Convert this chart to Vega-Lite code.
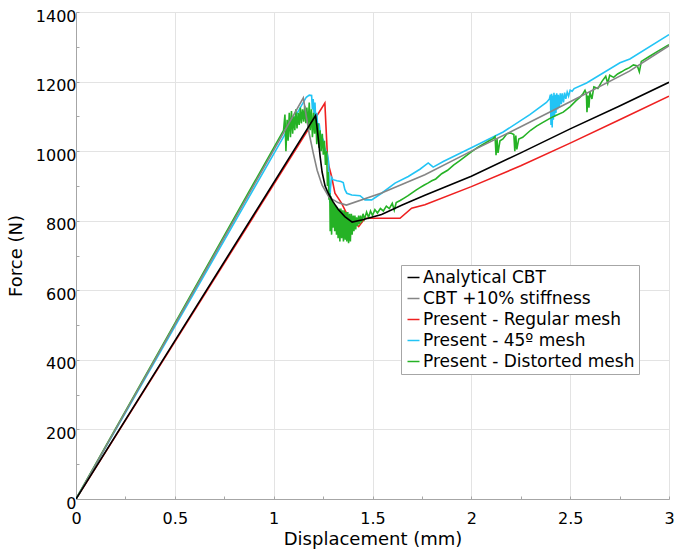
{
  "$schema": "https://vega.github.io/schema/vega-lite/v6.json",
  "width": 593,
  "height": 487,
  "autosize": {"type": "none"},
  "padding": {"left": 76, "top": 12, "right": 7, "bottom": 56},
  "background": "white",
  "config": {
    "font": "DejaVu Sans",
    "view": {"stroke": null},
    "axis": {
      "labelFont": "DejaVu Sans",
      "titleFont": "DejaVu Sans",
      "labelFontSize": 16,
      "titleFontSize": 18,
      "titleFontWeight": "normal",
      "labelColor": "#000000",
      "titleColor": "#000000",
      "gridColor": "#e3e3e3",
      "gridWidth": 1,
      "domainColor": "#a6a6a6",
      "domainWidth": 1,
      "tickColor": "#a6a6a6",
      "tickSize": -3
    }
  },
  "data": {
    "values": [
      {"s": "Analytical CBT", "x": 0, "y": 0},
      {"s": "Analytical CBT", "x": 1.212, "y": 1102},
      {"s": "Analytical CBT", "x": 1.218, "y": 1075},
      {"s": "Analytical CBT", "x": 1.226, "y": 1035},
      {"s": "Analytical CBT", "x": 1.235, "y": 985},
      {"s": "Analytical CBT", "x": 1.245, "y": 940},
      {"s": "Analytical CBT", "x": 1.26, "y": 900},
      {"s": "Analytical CBT", "x": 1.276, "y": 879},
      {"s": "Analytical CBT", "x": 1.3, "y": 855},
      {"s": "Analytical CBT", "x": 1.327, "y": 832},
      {"s": "Analytical CBT", "x": 1.36, "y": 812},
      {"s": "Analytical CBT", "x": 1.397, "y": 796},
      {"s": "Analytical CBT", "x": 1.45, "y": 803},
      {"s": "Analytical CBT", "x": 1.546, "y": 818},
      {"s": "Analytical CBT", "x": 1.65, "y": 845},
      {"s": "Analytical CBT", "x": 1.765, "y": 873},
      {"s": "Analytical CBT", "x": 2.0, "y": 928},
      {"s": "Analytical CBT", "x": 2.25, "y": 995},
      {"s": "Analytical CBT", "x": 2.5, "y": 1064},
      {"s": "Analytical CBT", "x": 2.75, "y": 1130},
      {"s": "Analytical CBT", "x": 3.0, "y": 1198},

      {"s": "CBT +10% stiffness", "x": 0, "y": 0},
      {"s": "CBT +10% stiffness", "x": 1.15, "y": 1153},
      {"s": "CBT +10% stiffness", "x": 1.165, "y": 1100},
      {"s": "CBT +10% stiffness", "x": 1.18, "y": 1050},
      {"s": "CBT +10% stiffness", "x": 1.2, "y": 995},
      {"s": "CBT +10% stiffness", "x": 1.22, "y": 945},
      {"s": "CBT +10% stiffness", "x": 1.245, "y": 902},
      {"s": "CBT +10% stiffness", "x": 1.28, "y": 868},
      {"s": "CBT +10% stiffness", "x": 1.325, "y": 852},
      {"s": "CBT +10% stiffness", "x": 1.368, "y": 845},
      {"s": "CBT +10% stiffness", "x": 1.546, "y": 880},
      {"s": "CBT +10% stiffness", "x": 1.765, "y": 932},
      {"s": "CBT +10% stiffness", "x": 2.0, "y": 1000},
      {"s": "CBT +10% stiffness", "x": 2.25, "y": 1070},
      {"s": "CBT +10% stiffness", "x": 2.5, "y": 1142},
      {"s": "CBT +10% stiffness", "x": 2.8, "y": 1230},
      {"s": "CBT +10% stiffness", "x": 3.0, "y": 1303},

      {"s": "Present - Regular mesh", "x": 0, "y": 0},
      {"s": "Present - Regular mesh", "x": 1.259, "y": 1138},
      {"s": "Present - Regular mesh", "x": 1.272, "y": 985},
      {"s": "Present - Regular mesh", "x": 1.278, "y": 960},
      {"s": "Present - Regular mesh", "x": 1.293, "y": 927},
      {"s": "Present - Regular mesh", "x": 1.31, "y": 879},
      {"s": "Present - Regular mesh", "x": 1.344, "y": 850},
      {"s": "Present - Regular mesh", "x": 1.377, "y": 812},
      {"s": "Present - Regular mesh", "x": 1.403, "y": 797},
      {"s": "Present - Regular mesh", "x": 1.43, "y": 783},
      {"s": "Present - Regular mesh", "x": 1.462, "y": 807},
      {"s": "Present - Regular mesh", "x": 1.639, "y": 807},
      {"s": "Present - Regular mesh", "x": 1.698, "y": 836},
      {"s": "Present - Regular mesh", "x": 1.765, "y": 846},
      {"s": "Present - Regular mesh", "x": 2.0, "y": 898},
      {"s": "Present - Regular mesh", "x": 2.25, "y": 958},
      {"s": "Present - Regular mesh", "x": 2.5, "y": 1023},
      {"s": "Present - Regular mesh", "x": 2.75, "y": 1090},
      {"s": "Present - Regular mesh", "x": 3.0, "y": 1158},

      {"s": "Present - 45º mesh", "x": 0, "y": 0},
      {"s": "Present - 45º mesh", "x": 1.165, "y": 1155},
      {"s": "Present - 45º mesh", "x": 1.18, "y": 1161},
      {"s": "Present - 45º mesh", "x": 1.192, "y": 1160},
      {"s": "Present - 45º mesh", "x": 1.196, "y": 1120},
      {"s": "Present - 45º mesh", "x": 1.2, "y": 1150},
      {"s": "Present - 45º mesh", "x": 1.205, "y": 1100},
      {"s": "Present - 45º mesh", "x": 1.209, "y": 1140},
      {"s": "Present - 45º mesh", "x": 1.214, "y": 1075},
      {"s": "Present - 45º mesh", "x": 1.218, "y": 1110},
      {"s": "Present - 45º mesh", "x": 1.224, "y": 1060},
      {"s": "Present - 45º mesh", "x": 1.23, "y": 1080},
      {"s": "Present - 45º mesh", "x": 1.236, "y": 1050},
      {"s": "Present - 45º mesh", "x": 1.245, "y": 1040},
      {"s": "Present - 45º mesh", "x": 1.252, "y": 1030},
      {"s": "Present - 45º mesh", "x": 1.258, "y": 1010},
      {"s": "Present - 45º mesh", "x": 1.265, "y": 1000},
      {"s": "Present - 45º mesh", "x": 1.272, "y": 990},
      {"s": "Present - 45º mesh", "x": 1.278, "y": 970},
      {"s": "Present - 45º mesh", "x": 1.281, "y": 900},
      {"s": "Present - 45º mesh", "x": 1.284, "y": 852},
      {"s": "Present - 45º mesh", "x": 1.287, "y": 890},
      {"s": "Present - 45º mesh", "x": 1.292, "y": 925},
      {"s": "Present - 45º mesh", "x": 1.3, "y": 918},
      {"s": "Present - 45º mesh", "x": 1.32, "y": 915},
      {"s": "Present - 45º mesh", "x": 1.34, "y": 913},
      {"s": "Present - 45º mesh", "x": 1.352, "y": 910},
      {"s": "Present - 45º mesh", "x": 1.36, "y": 890},
      {"s": "Present - 45º mesh", "x": 1.37, "y": 879},
      {"s": "Present - 45º mesh", "x": 1.395, "y": 874},
      {"s": "Present - 45º mesh", "x": 1.437, "y": 872},
      {"s": "Present - 45º mesh", "x": 1.462, "y": 860},
      {"s": "Present - 45º mesh", "x": 1.496, "y": 860},
      {"s": "Present - 45º mesh", "x": 1.546, "y": 879},
      {"s": "Present - 45º mesh", "x": 1.614, "y": 908},
      {"s": "Present - 45º mesh", "x": 1.681, "y": 927},
      {"s": "Present - 45º mesh", "x": 1.74, "y": 948},
      {"s": "Present - 45º mesh", "x": 1.782, "y": 966},
      {"s": "Present - 45º mesh", "x": 1.795, "y": 960},
      {"s": "Present - 45º mesh", "x": 1.807, "y": 954},
      {"s": "Present - 45º mesh", "x": 1.858, "y": 970},
      {"s": "Present - 45º mesh", "x": 2.0, "y": 1010},
      {"s": "Present - 45º mesh", "x": 2.161, "y": 1055},
      {"s": "Present - 45º mesh", "x": 2.296, "y": 1105},
      {"s": "Present - 45º mesh", "x": 2.38, "y": 1140},
      {"s": "Present - 45º mesh", "x": 2.395, "y": 1150},
      {"s": "Present - 45º mesh", "x": 2.4, "y": 1162},
      {"s": "Present - 45º mesh", "x": 2.403, "y": 1075},
      {"s": "Present - 45º mesh", "x": 2.406, "y": 1165},
      {"s": "Present - 45º mesh", "x": 2.409, "y": 1068},
      {"s": "Present - 45º mesh", "x": 2.412, "y": 1160},
      {"s": "Present - 45º mesh", "x": 2.415, "y": 1090},
      {"s": "Present - 45º mesh", "x": 2.418, "y": 1168},
      {"s": "Present - 45º mesh", "x": 2.421, "y": 1100},
      {"s": "Present - 45º mesh", "x": 2.424, "y": 1162},
      {"s": "Present - 45º mesh", "x": 2.428, "y": 1110},
      {"s": "Present - 45º mesh", "x": 2.432, "y": 1166},
      {"s": "Present - 45º mesh", "x": 2.436, "y": 1120},
      {"s": "Present - 45º mesh", "x": 2.44, "y": 1162},
      {"s": "Present - 45º mesh", "x": 2.445, "y": 1125},
      {"s": "Present - 45º mesh", "x": 2.45, "y": 1166},
      {"s": "Present - 45º mesh", "x": 2.455, "y": 1135},
      {"s": "Present - 45º mesh", "x": 2.46, "y": 1166},
      {"s": "Present - 45º mesh", "x": 2.466, "y": 1140},
      {"s": "Present - 45º mesh", "x": 2.472, "y": 1168},
      {"s": "Present - 45º mesh", "x": 2.478, "y": 1150},
      {"s": "Present - 45º mesh", "x": 2.485, "y": 1170},
      {"s": "Present - 45º mesh", "x": 2.492, "y": 1158},
      {"s": "Present - 45º mesh", "x": 2.5, "y": 1175},
      {"s": "Present - 45º mesh", "x": 2.51, "y": 1172},
      {"s": "Present - 45º mesh", "x": 2.52, "y": 1180},
      {"s": "Present - 45º mesh", "x": 2.583, "y": 1196},
      {"s": "Present - 45º mesh", "x": 2.752, "y": 1254},
      {"s": "Present - 45º mesh", "x": 2.802, "y": 1265},
      {"s": "Present - 45º mesh", "x": 3.0, "y": 1335},

      {"s": "Present - Distorted mesh", "x": 0, "y": 0},
      {"s": "Present - Distorted mesh", "x": 1.05, "y": 1060},
      {"s": "Present - Distorted mesh", "x": 1.057, "y": 1105},
      {"s": "Present - Distorted mesh", "x": 1.062, "y": 1000},
      {"s": "Present - Distorted mesh", "x": 1.068, "y": 1090},
      {"s": "Present - Distorted mesh", "x": 1.073, "y": 1030},
      {"s": "Present - Distorted mesh", "x": 1.079, "y": 1110},
      {"s": "Present - Distorted mesh", "x": 1.085, "y": 1040},
      {"s": "Present - Distorted mesh", "x": 1.09, "y": 1115},
      {"s": "Present - Distorted mesh", "x": 1.096, "y": 1050},
      {"s": "Present - Distorted mesh", "x": 1.101, "y": 1100},
      {"s": "Present - Distorted mesh", "x": 1.107, "y": 1060},
      {"s": "Present - Distorted mesh", "x": 1.112, "y": 1120},
      {"s": "Present - Distorted mesh", "x": 1.118, "y": 1065},
      {"s": "Present - Distorted mesh", "x": 1.124, "y": 1110},
      {"s": "Present - Distorted mesh", "x": 1.129, "y": 1075},
      {"s": "Present - Distorted mesh", "x": 1.135, "y": 1125},
      {"s": "Present - Distorted mesh", "x": 1.14, "y": 1080},
      {"s": "Present - Distorted mesh", "x": 1.146, "y": 1120},
      {"s": "Present - Distorted mesh", "x": 1.152, "y": 1085},
      {"s": "Present - Distorted mesh", "x": 1.157, "y": 1130},
      {"s": "Present - Distorted mesh", "x": 1.163, "y": 1080},
      {"s": "Present - Distorted mesh", "x": 1.168, "y": 1125},
      {"s": "Present - Distorted mesh", "x": 1.174, "y": 1070},
      {"s": "Present - Distorted mesh", "x": 1.18, "y": 1140},
      {"s": "Present - Distorted mesh", "x": 1.185, "y": 1060},
      {"s": "Present - Distorted mesh", "x": 1.191, "y": 1120},
      {"s": "Present - Distorted mesh", "x": 1.196, "y": 1040},
      {"s": "Present - Distorted mesh", "x": 1.202, "y": 1110},
      {"s": "Present - Distorted mesh", "x": 1.207, "y": 1050},
      {"s": "Present - Distorted mesh", "x": 1.213, "y": 1100},
      {"s": "Present - Distorted mesh", "x": 1.218, "y": 1020},
      {"s": "Present - Distorted mesh", "x": 1.224, "y": 1080},
      {"s": "Present - Distorted mesh", "x": 1.229, "y": 1010},
      {"s": "Present - Distorted mesh", "x": 1.235, "y": 1060},
      {"s": "Present - Distorted mesh", "x": 1.24, "y": 1000},
      {"s": "Present - Distorted mesh", "x": 1.246, "y": 1050},
      {"s": "Present - Distorted mesh", "x": 1.251, "y": 990},
      {"s": "Present - Distorted mesh", "x": 1.257, "y": 1030},
      {"s": "Present - Distorted mesh", "x": 1.262, "y": 960},
      {"s": "Present - Distorted mesh", "x": 1.268, "y": 1000},
      {"s": "Present - Distorted mesh", "x": 1.272, "y": 900},
      {"s": "Present - Distorted mesh", "x": 1.276, "y": 940},
      {"s": "Present - Distorted mesh", "x": 1.28, "y": 860},
      {"s": "Present - Distorted mesh", "x": 1.284, "y": 880},
      {"s": "Present - Distorted mesh", "x": 1.286, "y": 770},
      {"s": "Present - Distorted mesh", "x": 1.29, "y": 870},
      {"s": "Present - Distorted mesh", "x": 1.293, "y": 760},
      {"s": "Present - Distorted mesh", "x": 1.297, "y": 860},
      {"s": "Present - Distorted mesh", "x": 1.3, "y": 780},
      {"s": "Present - Distorted mesh", "x": 1.305, "y": 850},
      {"s": "Present - Distorted mesh", "x": 1.309, "y": 770},
      {"s": "Present - Distorted mesh", "x": 1.313, "y": 845},
      {"s": "Present - Distorted mesh", "x": 1.318, "y": 760},
      {"s": "Present - Distorted mesh", "x": 1.322, "y": 840},
      {"s": "Present - Distorted mesh", "x": 1.326, "y": 750},
      {"s": "Present - Distorted mesh", "x": 1.331, "y": 835},
      {"s": "Present - Distorted mesh", "x": 1.335, "y": 740},
      {"s": "Present - Distorted mesh", "x": 1.34, "y": 835},
      {"s": "Present - Distorted mesh", "x": 1.344, "y": 750},
      {"s": "Present - Distorted mesh", "x": 1.348, "y": 830},
      {"s": "Present - Distorted mesh", "x": 1.353, "y": 740},
      {"s": "Present - Distorted mesh", "x": 1.357, "y": 830},
      {"s": "Present - Distorted mesh", "x": 1.362, "y": 745},
      {"s": "Present - Distorted mesh", "x": 1.366, "y": 825},
      {"s": "Present - Distorted mesh", "x": 1.37, "y": 740},
      {"s": "Present - Distorted mesh", "x": 1.375, "y": 825},
      {"s": "Present - Distorted mesh", "x": 1.379, "y": 735},
      {"s": "Present - Distorted mesh", "x": 1.384, "y": 820},
      {"s": "Present - Distorted mesh", "x": 1.388, "y": 740},
      {"s": "Present - Distorted mesh", "x": 1.393, "y": 820},
      {"s": "Present - Distorted mesh", "x": 1.397, "y": 760},
      {"s": "Present - Distorted mesh", "x": 1.402, "y": 815},
      {"s": "Present - Distorted mesh", "x": 1.406, "y": 770},
      {"s": "Present - Distorted mesh", "x": 1.411, "y": 815},
      {"s": "Present - Distorted mesh", "x": 1.415, "y": 775},
      {"s": "Present - Distorted mesh", "x": 1.42, "y": 810},
      {"s": "Present - Distorted mesh", "x": 1.425, "y": 785},
      {"s": "Present - Distorted mesh", "x": 1.43, "y": 815},
      {"s": "Present - Distorted mesh", "x": 1.435, "y": 790},
      {"s": "Present - Distorted mesh", "x": 1.44, "y": 815},
      {"s": "Present - Distorted mesh", "x": 1.445, "y": 795},
      {"s": "Present - Distorted mesh", "x": 1.452, "y": 820},
      {"s": "Present - Distorted mesh", "x": 1.46, "y": 805},
      {"s": "Present - Distorted mesh", "x": 1.47, "y": 825},
      {"s": "Present - Distorted mesh", "x": 1.48, "y": 810},
      {"s": "Present - Distorted mesh", "x": 1.49, "y": 828},
      {"s": "Present - Distorted mesh", "x": 1.5, "y": 815},
      {"s": "Present - Distorted mesh", "x": 1.512, "y": 832},
      {"s": "Present - Distorted mesh", "x": 1.525, "y": 822},
      {"s": "Present - Distorted mesh", "x": 1.54, "y": 835},
      {"s": "Present - Distorted mesh", "x": 1.555, "y": 828},
      {"s": "Present - Distorted mesh", "x": 1.57, "y": 842},
      {"s": "Present - Distorted mesh", "x": 1.585, "y": 835},
      {"s": "Present - Distorted mesh", "x": 1.6, "y": 850},
      {"s": "Present - Distorted mesh", "x": 1.61, "y": 830},
      {"s": "Present - Distorted mesh", "x": 1.62, "y": 852},
      {"s": "Present - Distorted mesh", "x": 1.64, "y": 858},
      {"s": "Present - Distorted mesh", "x": 1.66, "y": 865},
      {"s": "Present - Distorted mesh", "x": 1.68, "y": 872},
      {"s": "Present - Distorted mesh", "x": 1.7, "y": 880},
      {"s": "Present - Distorted mesh", "x": 1.72, "y": 888},
      {"s": "Present - Distorted mesh", "x": 1.74, "y": 895},
      {"s": "Present - Distorted mesh", "x": 1.76, "y": 902},
      {"s": "Present - Distorted mesh", "x": 1.78, "y": 908},
      {"s": "Present - Distorted mesh", "x": 1.8, "y": 915},
      {"s": "Present - Distorted mesh", "x": 1.82, "y": 920},
      {"s": "Present - Distorted mesh", "x": 1.85, "y": 935},
      {"s": "Present - Distorted mesh", "x": 1.88, "y": 945},
      {"s": "Present - Distorted mesh", "x": 1.91, "y": 960},
      {"s": "Present - Distorted mesh", "x": 1.94, "y": 972},
      {"s": "Present - Distorted mesh", "x": 1.97, "y": 985},
      {"s": "Present - Distorted mesh", "x": 2.0, "y": 998},
      {"s": "Present - Distorted mesh", "x": 2.03, "y": 1010},
      {"s": "Present - Distorted mesh", "x": 2.06, "y": 1020},
      {"s": "Present - Distorted mesh", "x": 2.09, "y": 1030},
      {"s": "Present - Distorted mesh", "x": 2.11, "y": 1036},
      {"s": "Present - Distorted mesh", "x": 2.12, "y": 1042},
      {"s": "Present - Distorted mesh", "x": 2.125, "y": 988},
      {"s": "Present - Distorted mesh", "x": 2.13, "y": 1035},
      {"s": "Present - Distorted mesh", "x": 2.135, "y": 995},
      {"s": "Present - Distorted mesh", "x": 2.145, "y": 1030},
      {"s": "Present - Distorted mesh", "x": 2.16, "y": 1035},
      {"s": "Present - Distorted mesh", "x": 2.18, "y": 1050},
      {"s": "Present - Distorted mesh", "x": 2.2, "y": 1052},
      {"s": "Present - Distorted mesh", "x": 2.215, "y": 1048},
      {"s": "Present - Distorted mesh", "x": 2.22, "y": 1000},
      {"s": "Present - Distorted mesh", "x": 2.225, "y": 1045},
      {"s": "Present - Distorted mesh", "x": 2.23, "y": 1005},
      {"s": "Present - Distorted mesh", "x": 2.24, "y": 1035},
      {"s": "Present - Distorted mesh", "x": 2.26, "y": 1040},
      {"s": "Present - Distorted mesh", "x": 2.28, "y": 1050},
      {"s": "Present - Distorted mesh", "x": 2.3, "y": 1060},
      {"s": "Present - Distorted mesh", "x": 2.33, "y": 1072},
      {"s": "Present - Distorted mesh", "x": 2.36, "y": 1082},
      {"s": "Present - Distorted mesh", "x": 2.4, "y": 1095},
      {"s": "Present - Distorted mesh", "x": 2.43, "y": 1103},
      {"s": "Present - Distorted mesh", "x": 2.465, "y": 1112},
      {"s": "Present - Distorted mesh", "x": 2.5, "y": 1128},
      {"s": "Present - Distorted mesh", "x": 2.53, "y": 1145},
      {"s": "Present - Distorted mesh", "x": 2.55, "y": 1155},
      {"s": "Present - Distorted mesh", "x": 2.565, "y": 1165},
      {"s": "Present - Distorted mesh", "x": 2.575, "y": 1175},
      {"s": "Present - Distorted mesh", "x": 2.582, "y": 1165},
      {"s": "Present - Distorted mesh", "x": 2.585, "y": 1112},
      {"s": "Present - Distorted mesh", "x": 2.59, "y": 1160},
      {"s": "Present - Distorted mesh", "x": 2.595, "y": 1125},
      {"s": "Present - Distorted mesh", "x": 2.6, "y": 1170},
      {"s": "Present - Distorted mesh", "x": 2.61, "y": 1150},
      {"s": "Present - Distorted mesh", "x": 2.62, "y": 1185},
      {"s": "Present - Distorted mesh", "x": 2.64, "y": 1180},
      {"s": "Present - Distorted mesh", "x": 2.66, "y": 1200},
      {"s": "Present - Distorted mesh", "x": 2.68, "y": 1215},
      {"s": "Present - Distorted mesh", "x": 2.69, "y": 1195},
      {"s": "Present - Distorted mesh", "x": 2.7, "y": 1218},
      {"s": "Present - Distorted mesh", "x": 2.72, "y": 1212},
      {"s": "Present - Distorted mesh", "x": 2.74, "y": 1222},
      {"s": "Present - Distorted mesh", "x": 2.76, "y": 1228},
      {"s": "Present - Distorted mesh", "x": 2.78, "y": 1235},
      {"s": "Present - Distorted mesh", "x": 2.8, "y": 1240},
      {"s": "Present - Distorted mesh", "x": 2.82, "y": 1248},
      {"s": "Present - Distorted mesh", "x": 2.84, "y": 1245},
      {"s": "Present - Distorted mesh", "x": 2.85, "y": 1228},
      {"s": "Present - Distorted mesh", "x": 2.86, "y": 1258},
      {"s": "Present - Distorted mesh", "x": 2.9, "y": 1272},
      {"s": "Present - Distorted mesh", "x": 2.94, "y": 1286},
      {"s": "Present - Distorted mesh", "x": 2.97, "y": 1296},
      {"s": "Present - Distorted mesh", "x": 3.0, "y": 1306}
    ]
  },
  "encoding": {
    "x": {
      "field": "x",
      "type": "quantitative",
      "scale": {"domain": [0, 3], "nice": false, "zero": false},
      "axis": {
        "title": "Displacement (mm)",
        "values": [0, 0.25, 0.5, 0.75, 1, 1.25, 1.5, 1.75, 2, 2.25, 2.5, 2.75, 3],
        "labelExpr": "datum.value % 0.5 == 0 ? format(datum.value, '~g') : ''",
        "gridOpacity": {"condition": {"test": "datum.value % 0.5 == 0", "value": 1}, "value": 0},
        "labelPadding": 14,
        "titlePadding": 4,
        "labelFlush": false
      }
    },
    "y": {
      "field": "y",
      "type": "quantitative",
      "scale": {"domain": [0, 1400], "nice": false},
      "axis": {
        "title": "Force (N)",
        "values": [0, 100, 200, 300, 400, 500, 600, 700, 800, 900, 1000, 1100, 1200, 1300, 1400],
        "labelExpr": "datum.value % 200 == 0 ? format(datum.value, 'd') : ''",
        "gridOpacity": {"condition": {"test": "datum.value % 200 == 0", "value": 1}, "value": 0},
        "labelPadding": 3,
        "labelOffset": 4,
        "titlePadding": 10,
        "labelFlush": false
      }
    },
    "color": {
      "field": "s",
      "type": "nominal",
      "scale": {
        "domain": ["Analytical CBT", "CBT +10% stiffness", "Present - Regular mesh", "Present - 45º mesh", "Present - Distorted mesh"],
        "range": ["#000000", "#858585", "#ee2020", "#22c4f5", "#25b225"]
      },
      "legend": {
        "title": null,
        "orient": "none",
        "legendX": 325,
        "legendY": 253,
        "direction": "vertical",
        "fillColor": "#ffffff",
        "strokeColor": "#a6a6a6",
        "padding": 4,
        "rowPadding": 3,
        "labelFontSize": 17,
        "labelFont": "DejaVu Sans",
        "labelColor": "#000000",
        "labelLimit": 400,
        "labelOffset": 1,
        "symbolType": "stroke",
        "symbolSize": 144,
        "symbolStrokeWidth": 1.5
      }
    }
  },
  "layer": [
    {"transform": [{"filter": "datum.s == 'Present - Regular mesh'"}], "mark": {"type": "line", "strokeWidth": 1.6, "clip": true}},
    {"transform": [{"filter": "datum.s == 'Present - 45º mesh'"}], "mark": {"type": "line", "strokeWidth": 1.6, "clip": true}},
    {"transform": [{"filter": "datum.s == 'Present - Distorted mesh'"}], "mark": {"type": "line", "strokeWidth": 1.6, "clip": true}},
    {"transform": [{"filter": "datum.s == 'CBT +10% stiffness'"}], "mark": {"type": "line", "strokeWidth": 1.6, "clip": true}},
    {"transform": [{"filter": "datum.s == 'Analytical CBT'"}], "mark": {"type": "line", "strokeWidth": 1.6, "clip": true}}
  ]
}
